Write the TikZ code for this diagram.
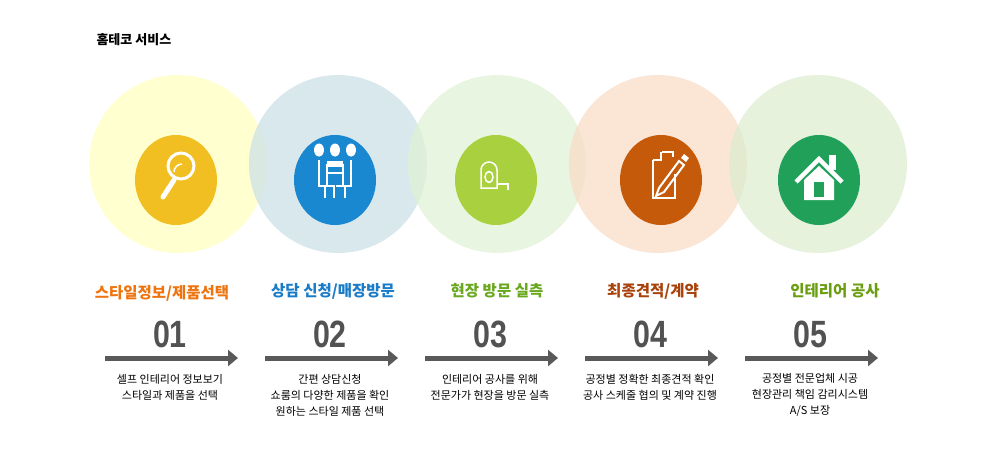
\documentclass[tikz,border=0pt]{standalone}
\usepackage{fontspec}
\setmainfont{Noto Sans CJK KR}
\newfontfamily\numfont{Liberation Sans}
\begin{document}
\begin{tikzpicture}[x=1pt,y=-1pt,
  big/.style={circle,minimum size=178pt,inner sep=0pt,fill opacity=0.75},
  ico/.style={ellipse,minimum width=82pt,minimum height=90pt,inner sep=0pt},
  ttl/.style={font=\bfseries\fontsize{15.5}{18}\selectfont},
  num/.style={font=\numfont\bfseries\fontsize{38}{38}\selectfont,text=black!68,xscale=0.8},
  desc/.style={font=\fontsize{11}{16}\selectfont,align=center},
  arr/.style={line width=5pt,draw=black!65,-{Triangle[length=10pt,width=16pt]}},
  wl/.style={draw=white,line width=2.2pt}]
\usetikzlibrary{shapes.geometric,arrows.meta}
\path[use as bounding box] (0,0) rectangle (1001,463);
\definecolor{c1}{HTML}{FFFFC0}\definecolor{c2}{HTML}{CCE0E6}\definecolor{c3}{HTML}{E0F2D6}
\definecolor{c4}{HTML}{F9DCC6}\definecolor{c5}{HTML}{DDEDD0}
\definecolor{i1}{HTML}{F2BF22}\definecolor{i2}{HTML}{1A88D0}\definecolor{i3}{HTML}{A9D03E}
\definecolor{i4}{HTML}{C55A0B}\definecolor{i5}{HTML}{21A05A}
\definecolor{t1}{HTML}{EE7410}\definecolor{t2}{HTML}{1A7CC8}\definecolor{t3}{HTML}{6AA820}
\definecolor{t4}{HTML}{A8420A}\definecolor{t5}{HTML}{6A9E10}
\node[font=\bfseries\fontsize{13}{15}\selectfont,anchor=west] (hdr) at (93,40) {홈테코 서비스};
\foreach \i/\x in {1/178,2/338,3/497,4/658,5/818}{
  \node[big,fill=c\i] (b\i) at (\x,164) {};
}
\foreach \i/\x in {1/176,2/335,3/496,4/661,5/819}{
  \node[ico,fill=i\i] (c\i) at (\x,180) {};
}
% icon 1 magnifier
\draw[white,line width=3pt] (181,166) circle (13);
\draw[white,line width=1.5pt] (174,172) arc (180:270:8);
\draw[white,line width=5pt,line cap=round] (174,180) -- (163,197);
% icon 2 meeting
\foreach \dx in {-16,0,16} \fill[white] (335+\dx,150) ellipse (5 and 6.5);
\draw[wl,line width=2.8pt] (327,164) -- (327,186) -- (334,186) -- (334,198);
\draw[wl,line width=2.8pt] (343,164) -- (343,186) -- (336,186);
\fill[white] (327,161) rectangle (343,167);
\draw[wl,line width=2.8pt] (327,173) -- (343,173);
\draw[wl,line width=2.8pt] (319,160) -- (319,186) -- (325,186) -- (325,198);
\draw[wl,line width=2.8pt] (351,160) -- (351,186) -- (345,186) -- (345,198);
% icon 3 tape
\draw[white,line width=1.5pt] (481,188) -- (481,170) arc (180:360:8) -- (497,188) -- cycle;
\draw[white,line width=1.5pt] (489,177) ellipse (4 and 5.5);
\draw[white,line width=1.5pt] (497,184) -- (508,184) -- (508,190);
% icon 4 doc + pencil
\draw[wl] (662,152) -- (673,152) -- (673,157);
\draw[wl] (653,160) -- (653,198) -- (675,198) -- (675,174);
\draw[wl] (653,160) -- (661,160) -- (661,152);
\draw[wl,line width=2pt] (659,188) -- (679,161) -- (684,165) -- (664,192) -- (656,196) -- cycle;
\fill[white] (681,158) -- (684,154) -- (689,158) -- (686,162) -- cycle;
% icon 5 house
\draw[white,line width=4.5pt,line join=miter] (796,182) -- (819,159) -- (842,182);
\fill[white] (804,180) -- (819,166) -- (834,180) -- (834,200) -- (804,200) -- cycle;
\fill[i5] (814,182) rectangle (824,197);
\fill[white] (829,155) rectangle (836,170);
% titles
\node[ttl,text=t1] (t1) at (162,293) {스타일정보/제품선택};
\node[ttl,text=t2] (t2) at (333,291) {상담 신청/매장방문};
\node[ttl,text=t3] (t3) at (497,291) {현장 방문 실측};
\node[ttl,text=t4] (t4) at (653,291) {최종견적/계약};
\node[ttl,text=t5] (t5) at (835,291) {인테리어 공사};
\foreach \i/\x/\n in {1/170/01,2/330/02,3/490/03,4/650/04,5/810/05}{
  \node[num] (n\i) at (\x,334) {\n};
  \coordinate (s\i) at (\x-65,358);
  \coordinate (e\i) at (\x+68,358);
  \draw[arr] (s\i) -- (e\i);
}
\node[desc] (d1) at (170,387) {셀프 인테리어 정보보기\\스타일과 제품을 선택};
\node[desc] (d2) at (330,395) {간편 상담신청\\쇼룸의 다양한 제품을 확인\\원하는 스타일 제품 선택};
\node[desc] (d3) at (490,387) {인테리어 공사를 위해\\전문가가 현장을 방문 실측};
\node[desc] (d4) at (650,387) {공정별 정확한 최종견적 확인\\공사 스케줄 협의 및 계약 진행};
\node[desc] (d5) at (810,395) {공정별 전문업체 시공\\현장관리 책임 감리시스템\\A/S 보장};
\end{tikzpicture}
\end{document}
